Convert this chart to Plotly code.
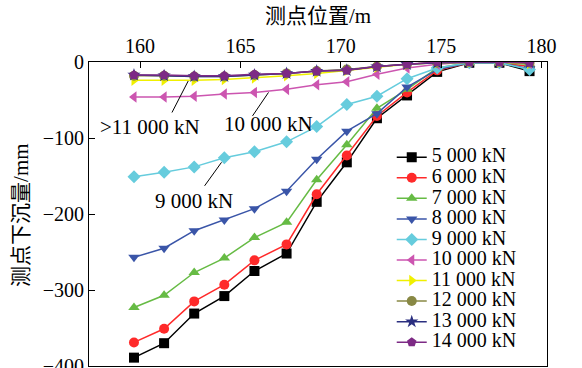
import plotly.graph_objects as go

# positions along the section (m)
positions = [159.7, 161.2, 162.7, 164.2, 165.7, 167.3, 168.8, 170.3, 171.8, 173.3, 174.8, 176.4, 177.9, 179.4]

loads = ["5 000 kN", "6 000 kN", "7 000 kN", "8 000 kN", "9 000 kN",
         "10 000 kN", "11 000 kN", "12 000 kN", "13 000 kN", "14 000 kN"]

s5000 = [-389, -370, -331, -308, -275, -252, -184, -132, -74, -44, -13, -1, -1, -12]
s6000 = [-369, -351, -315, -293, -261, -240, -174, -123, -71, -40, -11, -1, -1, -6]
s7000 = [-323, -307, -277, -258, -231, -211, -155, -109, -61, -36, -8, -1, -1, -3]
s8000 = [-257, -245, -222, -208, -193, -170, -128, -91, -68, -33, -10, -1, -1, -9]
s9000 = [-151, -145, -138, -126, -118, -105, -85, -56, -45, -22, -8, -1, -1, -10]
s10000 = [-46, -46, -45, -42, -40, -36, -30, -26, -16, -8, -3, 0, 0, -2]
s11000 = [-24, -24, -24, -23, -21, -18, -15, -11, -7, -3, -1, 0, 0, -2]
s12000 = [-18, -18, -19, -19, -17, -15, -12, -10, -6, -3, -1, 0, 0, -1]
s13000 = [-17, -18, -19, -19, -17, -15, -12, -11, -6, -3, -1, 0, 0, -1]
s14000 = [-17, -17, -18, -18, -16, -15, -12, -11, -6, -3, 0, 0, 0, -1]

series = [s5000, s6000, s7000, s8000, s9000, s10000, s11000, s12000, s13000, s14000]
colors = ["#000000", "#ff2a2a", "#66bb44", "#3a55a8", "#66ccdd",
          "#cc55b0", "#f0f000", "#888844", "#2b2f80", "#7d2a85"]
symbols = ["square", "circle", "triangle-up", "triangle-down", "diamond",
           "triangle-left", "triangle-right", "circle", "star", "pentagon"]

FONT = "Liberation Serif, Times New Roman, Noto Sans CJK SC, serif"

fig = go.Figure()
for name, ys, c, sym in zip(loads, series, colors, symbols):
    fig.add_trace(go.Scatter(
        x=positions, y=ys, mode="lines+markers",
        name='<span style="font-size:20px">' + name + '</span>',
        line=dict(color=c, width=1.5),
        marker=dict(symbol=sym, size=10, color=c),
    ))

# callout labels (text + leader line)
labels = [
    (">11 000 kN", 160.5, -85, 162.4, -25, -17, 33),
    ("10 000 kN", 166.4, -82, 166.4, -40, -17, 25),
    ("9 000 kN", 162.7, -183, 164.06, -132, -18, 25),
]
for txt, tx, ty, hx, hy, ax, ay in labels:
    fig.add_annotation(x=tx, y=ty, text=txt, showarrow=False,
                       font=dict(family=FONT, size=21, color="black"))
    fig.add_annotation(x=hx, y=hy, text="", showarrow=True, arrowhead=0,
                       arrowwidth=1, arrowcolor="black", ax=ax, ay=ay, standoff=0)

# y-axis title placed as rotated text
fig.add_annotation(x=-0.1485, y=0.497, xref="paper", yref="paper",
                   text="测点下沉量/mm", textangle=-90, showarrow=False,
                   xanchor="center", yanchor="middle",
                   font=dict(family=FONT, size=21, color="black"))

fig.update_layout(
    width=582, height=368,
    margin=dict(l=89, r=35, t=62, b=2),
    paper_bgcolor="white", plot_bgcolor="white",
    font=dict(family=FONT, size=20, color="black"),
    showlegend=True,
    legend=dict(x=0.661, y=0.737, xanchor="left", yanchor="top",
                bgcolor="rgba(0,0,0,0)", borderwidth=0,
                font=dict(family=FONT, size=13.5, color="black"),
                itemwidth=30, tracegroupgap=0),
)
fig.update_xaxes(
    side="top", range=[157.46, 180.27], tickmode="array",
    tickvals=[160, 165, 170, 175, 180],
    ticks="inside", ticklen=6, tickcolor="black",
    showline=True, linecolor="black", linewidth=1, mirror=True,
    showgrid=False, zeroline=False, automargin=False,
    title=dict(text="测点位置/m", font=dict(size=21), standoff=5),
    tickfont=dict(size=20),
)
fig.update_yaxes(
    range=[-400, 0], tickvals=[0, -100, -200, -300, -400],
    ticktext=["0", "−100", "−200", "−300", "−400"],
    ticks="inside", ticklen=6, tickcolor="black",
    showline=True, linecolor="black", linewidth=1, mirror=True,
    showgrid=False, zeroline=False, ticklabeloverflow="allow",
    automargin=False,
    tickfont=dict(size=20),
)

fig.write_html("out.html")
